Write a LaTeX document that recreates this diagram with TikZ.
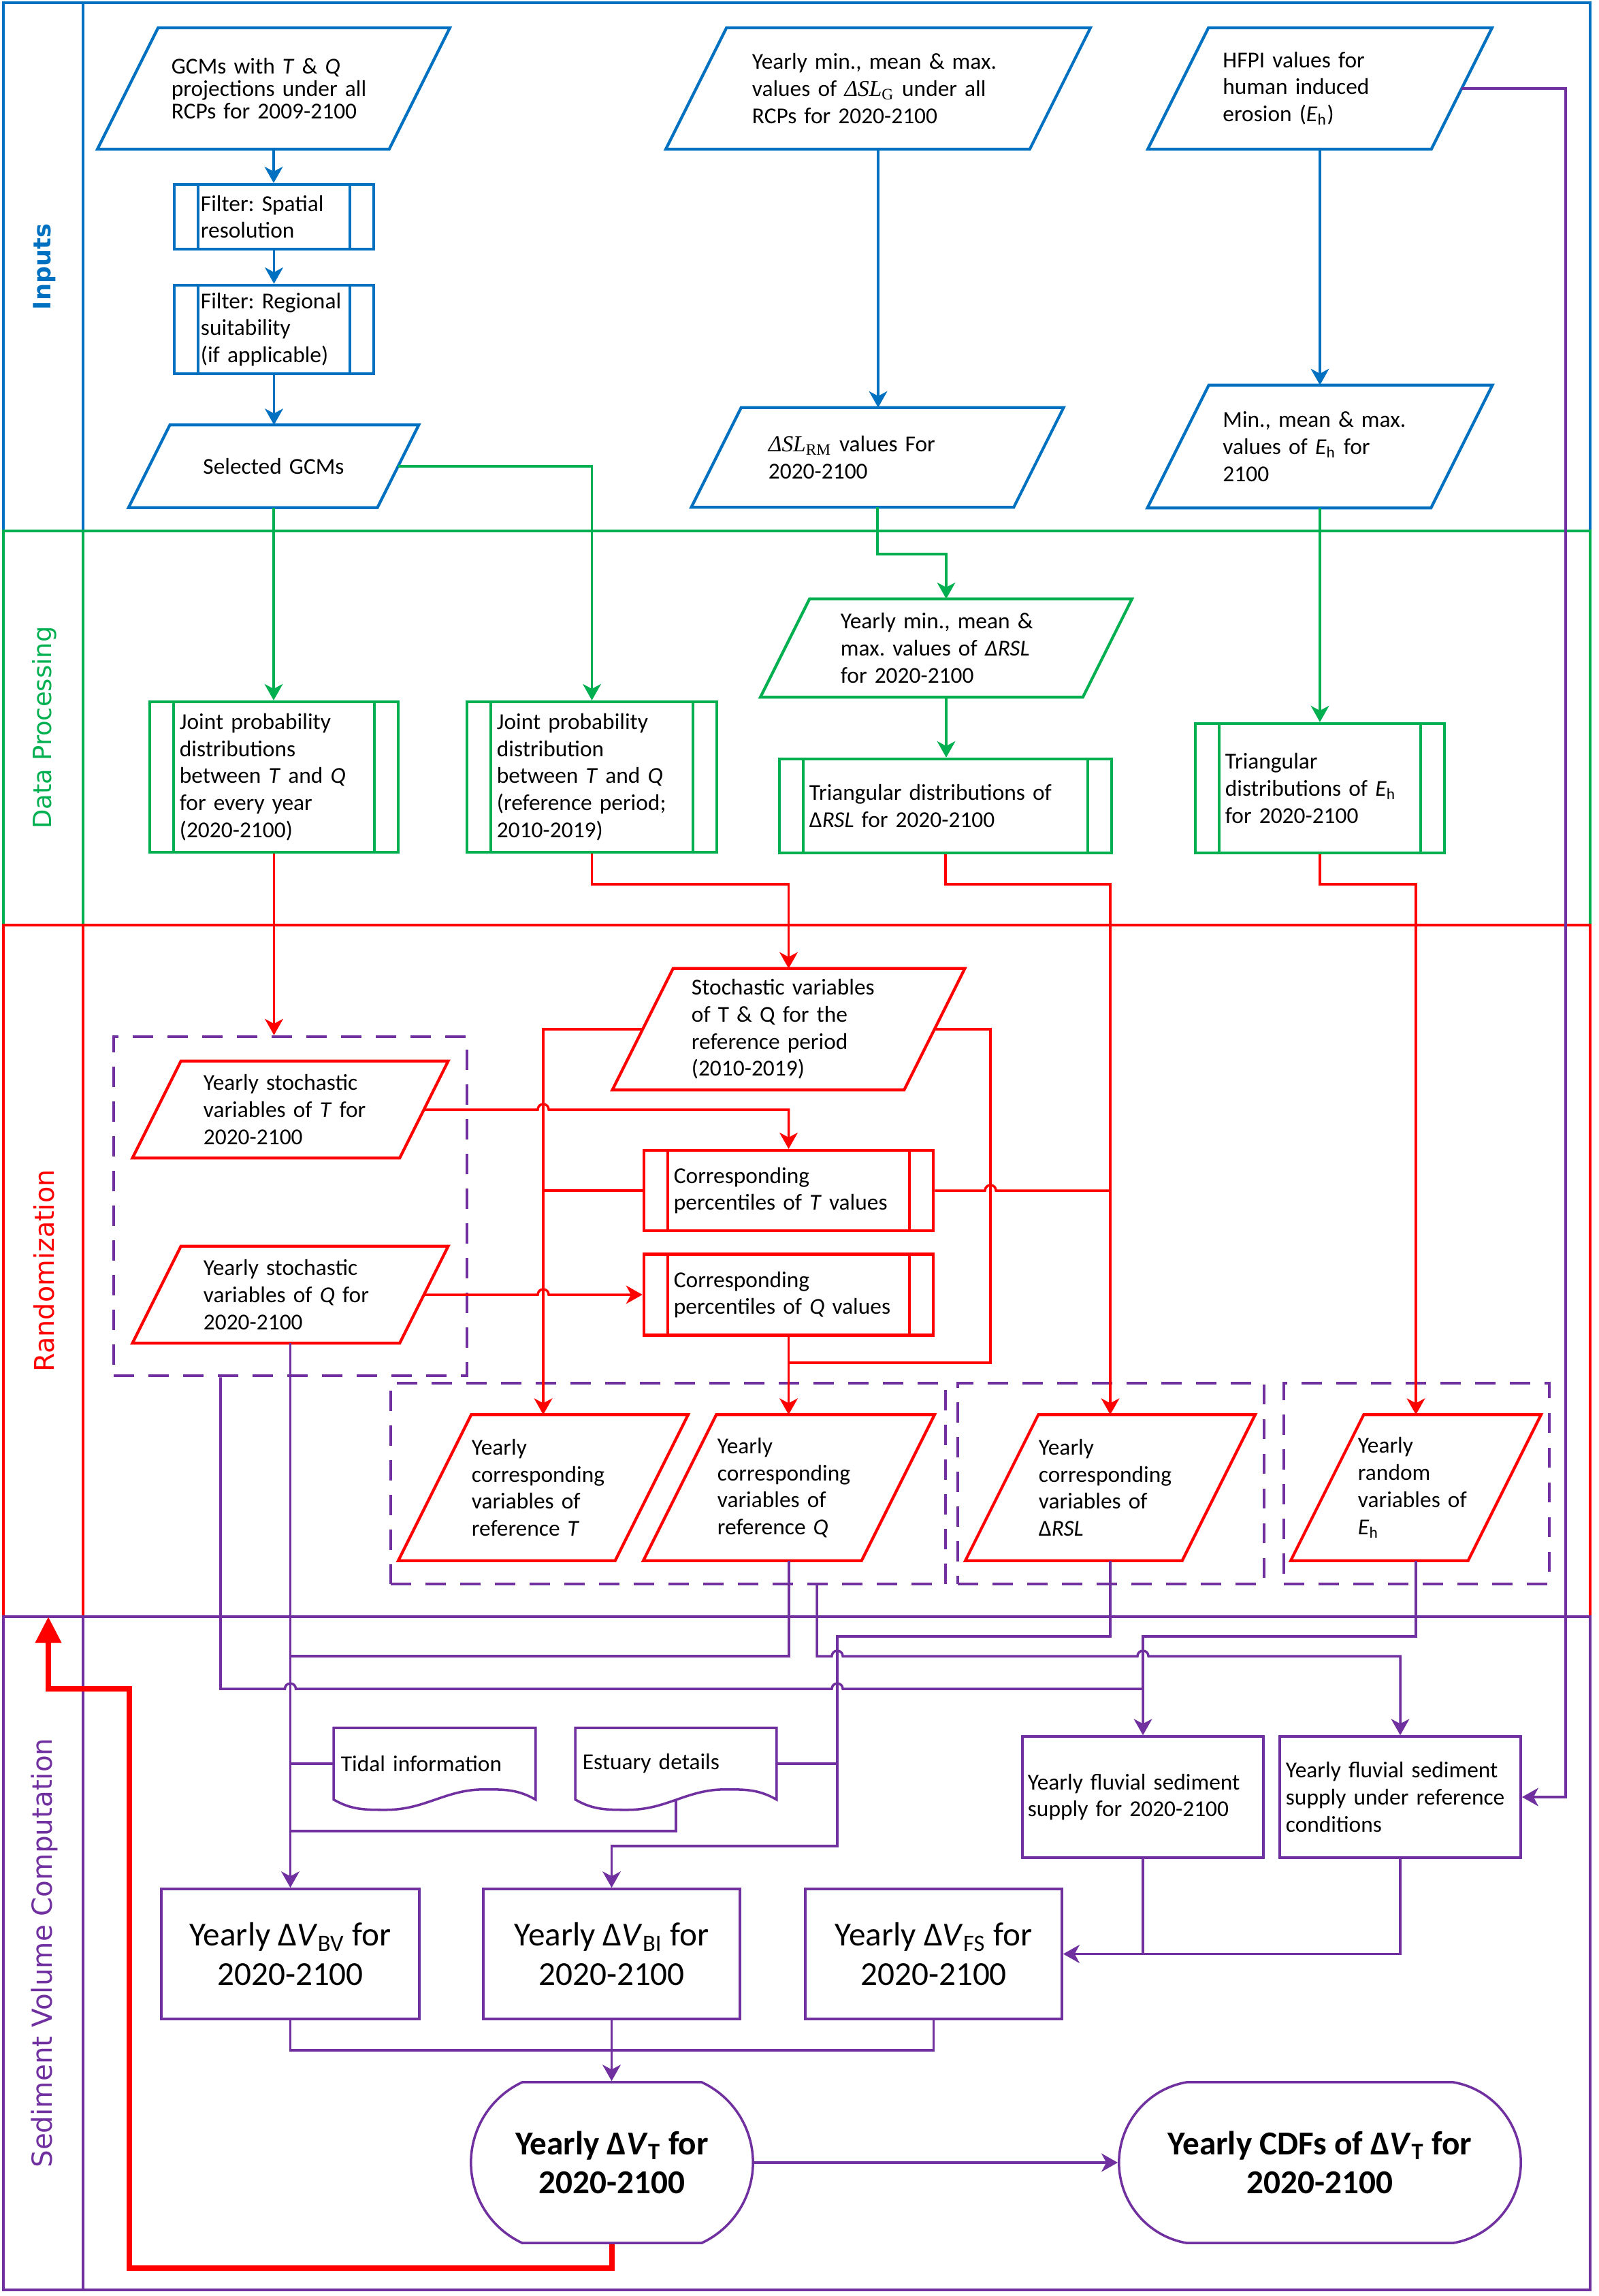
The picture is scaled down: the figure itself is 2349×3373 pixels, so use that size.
\documentclass[tikz,border=0pt]{standalone}
\usepackage{fontspec}
\setmainfont{Carlito}
\newfontfamily\lanefont{DejaVu Sans}
\newfontfamily\tnr{Liberation Serif}
\usetikzlibrary{arrows.meta,calc,shapes.misc}

\definecolor{cblue}{RGB}{0,112,192}
\definecolor{cgreen}{RGB}{0,176,80}
\definecolor{cred}{RGB}{255,0,0}
\definecolor{cpurple}{RGB}{112,48,160}

\newcommand{\dsl}[1]{{\tnr\textit{ΔSL}\textsubscript{#1}}}
\newcommand{\Eh}{\textit{E}\textsubscript{h}}
\newcommand{\dV}[1]{Δ\textit{V}\textsubscript{#1}}

\begin{document}
\frenchspacing
\begin{tikzpicture}[x=0.01cm, y=-0.01cm,
  txt/.style={font=\fontsize{9.5}{11.3}\selectfont, inner sep=0pt, align=left},
  io/.style={txt, rectangle},
  proc/.style={txt, rectangle, draw=#1, line width=1.2pt,
    path picture={\draw[#1, line width=1.2pt]
      ([xshift=10pt]path picture bounding box.north west) -- ([xshift=10pt]path picture bounding box.south west)
      ([xshift=-10pt]path picture bounding box.north east) -- ([xshift=-10pt]path picture bounding box.south east);}},
  sbox/.style={txt, rectangle, draw=cpurple, line width=1pt},
  big/.style={rectangle, draw=cpurple, line width=1pt, inner sep=0pt, align=center, font=\fontsize{14}{16.4}\selectfont},
  term/.style={rounded rectangle, rounded rectangle arc length=#1, draw=cpurple, line width=1pt,
    inner sep=0pt, align=center, font=\fontsize{14}{16.4}\selectfont\bfseries},
  doc/.style={txt, rectangle},
  grp/.style={rectangle, draw=cpurple, line width=1.2pt, dash pattern=on 8.5pt off 6pt, inner sep=0pt},
  lane/.style={rotate=90, text=#1, inner sep=0pt},
  link/.style={line width=1pt, -{Stealth[length=6.8pt, width=7.6pt, inset=2pt]}},
  wire/.style={line width=1pt},
]
\useasboundingbox (0,0) rectangle (2349,3373);
\fill[white] (0,0) rectangle (2349,3373);

% swim lanes
\foreach \ya/\yb/\cl in {4/780/cblue, 780/1359/cgreen, 1359/2375/cred, 2375/3364/cpurple}
  \draw[\cl, line width=1pt] (5,\ya) rectangle (2336,\yb) (122,\ya) -- (122,\yb);

\node[lane=cblue, font=\lanefont\bfseries\fontsize{10}{12}\selectfont] (lin) at (65,392) {Inputs};
\node[lane=cgreen, font=\lanefont\fontsize{10.5}{12}\selectfont] (ldp) at (65,1069) {Data Processing};
\node[lane=cred, font=\lanefont\fontsize{11.3}{13}\selectfont] (lrd) at (65,1867) {Randomization};
\node[lane=cpurple, font=\lanefont\fontsize{11.5}{13}\selectfont] (lsv) at (65,2869) {Sediment Volume Computation};

% dashed groups
\node[grp, minimum width=5.19cm, minimum height=4.98cm] (grp1) at (426.5,1772) {};
\node[grp, minimum width=8.15cm, minimum height=2.95cm] (grp2) at (981.5,2179.5) {};
\node[grp, minimum width=4.50cm, minimum height=2.95cm] (grp3) at (1632,2179.5) {};
\node[grp, minimum width=3.90cm, minimum height=2.95cm] (grp4) at (2081,2179.5) {};

% inputs
\node[io, minimum width=4.27cm, minimum height=1.77cm, text width=3.00cm, font=\fontsize{9.5}{9.5}\selectfont] (gcm) at (402,130)
  {GCMs with \textit{T} \& \textit{Q}\\projections under all\\RCPs for 2009-2100};
\node[io, minimum width=5.33cm, minimum height=1.77cm, text width=3.70cm] (dslg) at (1290,130)
  {Yearly min., mean \& max.\\values of \dsl{G} under all\\RCPs for 2020-2100};
\node[io, minimum width=4.15cm, minimum height=1.77cm, text width=2.85cm] (hfpi) at (1939,130)
  {HFPI values for\\human induced\\erosion (\Eh)};
\node[proc=cblue, minimum width=2.93cm, minimum height=0.95cm, text width=2.15cm] (fsp) at (402.5,318.5)
  {Filter: Spatial\\resolution};
\node[proc=cblue, minimum width=2.93cm, minimum height=1.30cm, text width=2.15cm] (freg) at (402.5,484)
  {Filter: Regional\\suitability\\(if applicable)};
\node[io, minimum width=3.64cm, minimum height=1.20cm, text width=2.60cm, align=center] (sel) at (402,685)
  {Selected GCMs};
\node[io, minimum width=4.72cm, minimum height=1.45cm, text width=3.20cm] (dslrm) at (1289,672)
  {\dsl{RM} values For\\2020-2100};
\node[io, minimum width=4.15cm, minimum height=1.79cm, text width=2.85cm] (ehmm) at (1939,656)
  {Min., mean \& max.\\values of \Eh{} for\\2100};

% data processing
\node[proc=cgreen, minimum width=3.65cm, minimum height=2.21cm, text width=2.77cm] (jp1) at (402.5,1141.5)
  {Joint probability\\distributions\\between \textit{T} and \textit{Q}\\for every year\\(2020-2100)};
\node[proc=cgreen, minimum width=3.67cm, minimum height=2.21cm, text width=2.79cm] (jp2) at (869.5,1141.5)
  {Joint probability\\distribution\\between \textit{T} and \textit{Q}\\(reference period;\\2010-2019)};
\node[io, minimum width=4.72cm, minimum height=1.43cm, text width=3.10cm] (drsl) at (1390,952)
  {Yearly min., mean \&\\max. values of \textit{ΔRSL}\\for 2020-2100};
\node[proc=cgreen, minimum width=4.88cm, minimum height=1.38cm, text width=4.00cm] (trr) at (1389,1184)
  {Triangular distributions of\\Δ\textit{RSL} for 2020-2100};
\node[proc=cgreen, minimum width=3.66cm, minimum height=1.90cm, text width=2.78cm] (tre) at (1939,1158)
  {Triangular\\distributions of \Eh\\for 2020-2100};

% randomization
\node[io, minimum width=4.27cm, minimum height=1.77cm, text width=2.85cm] (stref) at (1158.5,1512)
  {Stochastic variables\\of T \& Q for the\\reference period\\(2010-2019)};
\node[io, minimum width=3.91cm, minimum height=1.41cm, text width=2.55cm] (stt) at (426.5,1630)
  {Yearly stochastic\\variables of \textit{T} for\\2020-2100};
\node[io, minimum width=3.91cm, minimum height=1.41cm, text width=2.55cm] (stq) at (426.5,1902)
  {Yearly stochastic\\variables of \textit{Q} for\\2020-2100};
\node[proc=cred, minimum width=4.25cm, minimum height=1.18cm, text width=3.37cm] (pct) at (1158.5,1749)
  {Corresponding\\percentiles of \textit{T} values};
\node[proc=cred, minimum width=4.25cm, minimum height=1.19cm, text width=3.37cm] (pcq) at (1158.5,1902)
  {Corresponding\\percentiles of \textit{Q} values};
\node[io, minimum width=3.17cm, minimum height=2.13cm, text width=2.10cm] (crt) at (798,2185.5)
  {Yearly\\corresponding\\variables of\\reference \textit{T}};
\node[io, minimum width=3.19cm, minimum height=2.13cm, text width=2.10cm] (crq) at (1159,2185.5)
  {Yearly\\corresponding\\variables of\\reference \textit{Q}};
\node[io, minimum width=3.17cm, minimum height=2.13cm, text width=2.10cm] (crr) at (1631,2185.5)
  {Yearly\\corresponding\\variables of\\Δ\textit{RSL}};
\node[io, minimum width=2.59cm, minimum height=2.13cm, text width=1.70cm] (rde) at (2080,2185.5)
  {Yearly\\random\\variables of\\\Eh};

% sediment volume computation
\node[doc, minimum width=2.95cm, minimum height=1.04cm, text width=2.75cm] (tid) at (638.5,2591) {Tidal information};
\node[doc, minimum width=2.94cm, minimum height=1.04cm, text width=2.74cm] (est) at (993,2591) {Estuary details};
\node[sbox, minimum width=3.54cm, minimum height=1.78cm, text width=3.38cm] (fl1) at (1679,2640)
  {Yearly fluvial sediment\\supply for 2020-2100};
\node[sbox, minimum width=3.54cm, minimum height=1.78cm, text width=3.36cm] (fl2) at (2057,2640)
  {Yearly fluvial sediment\\supply under reference\\conditions};
\node[big, minimum width=3.79cm, minimum height=1.91cm] (vbv) at (426.5,2870.5) {Yearly \dV{BV} for\\2020-2100};
\node[big, minimum width=3.77cm, minimum height=1.91cm] (vbi) at (898.5,2870.5) {Yearly \dV{BI} for\\2020-2100};
\node[big, minimum width=3.77cm, minimum height=1.91cm] (vfs) at (1371.5,2870.5) {Yearly \dV{FS} for\\2020-2100};
\node[term=130, minimum width=4.14cm, minimum height=2.36cm] (vt) at (899,3177) {Yearly \dV{T} for\\2020-2100};
\node[term=160, minimum width=5.90cm, minimum height=2.36cm] (cdf) at (1939,3177) {Yearly CDFs of \dV{T} for\\2020-2100};

% parallelogram outlines
\foreach \nd/\cl in {gcm/cblue, dslg/cblue, hfpi/cblue, sel/cblue, dslrm/cblue, ehmm/cblue, drsl/cgreen,
    stref/cred, stt/cred, stq/cred, crt/cred, crq/cred, crr/cred, rde/cred}
  \draw[\cl, line width=1.2pt]
    let \p1=(\nd.north west), \p2=(\nd.south east), \n1={0.25*(\y1-\y2)} in
    ({\x1+\n1},\y1) -- ({\x2+\n1},\y1) -- ({\x2-\n1},\y2) -- ({\x1-\n1},\y2) -- cycle;

% document outlines
\foreach \nd in {tid, est}
  \draw[cpurple, line width=1pt] (\nd.north west) -- (\nd.north east) -- (\nd.south east)
    to[out=150, in=0] ($(\nd.south east)+(-75,-15)$)
    to[out=180, in=0] ($(\nd.south west)+(77,15)$)
    to[out=180, in=-30] (\nd.south west) -- cycle;

% inputs links
\foreach \a/\b in {gcm/fsp, fsp/freg, freg/sel, dslg/dslrm, hfpi/ehmm}
  \draw[link, cblue] (\a.south) -- (\a.south |- \b.north);

% data processing links
\draw[link, cgreen] (sel.south) -- (sel.south |- jp1.north);
\draw[link, cgreen] (sel.east) -| (jp2.north);
\draw[link, cgreen] (dslrm.south) -- ++(0,69) -| (drsl.north);
\draw[link, cgreen] (drsl.south) -- (drsl.south |- trr.north);
\draw[link, cgreen] (ehmm.south) -- (ehmm.south |- tre.north);

% randomization links
\draw[link, cred] (jp1.south) -- (jp1.south |- grp1.north);
\draw[link, cred] (jp2.south) -- ++(0,45) -| (stref.north);
\draw[link, cred] (trr.south) -- ++(0,44) -| (crr.north);
\draw[link, cred] (tre.south) -- ++(0,44) -| (rde.north);
\draw[link, cred] (stref.west) -| (crt.north);
\draw[wire, cred] (pct.west) -- (crt.north |- pct.west);
\draw[link, cred] (stt.east) -- (790,1630) arc[start angle=180, end angle=0, radius=2.28pt]
  -- (pct.north |- stt.east) -- (pct.north);
\draw[link, cred] (stq.east) -- (790,1902) arc[start angle=180, end angle=0, radius=2.28pt] -- (pcq.west);
\draw[wire, cred] (pct.east) -- (1447,1749) arc[start angle=180, end angle=0, radius=2.28pt]
  -- (crr.north |- pct.east);
\draw[wire, cred] (stref.east) -- (1455,1512) -- (1455,2002) -- (pcq.south |- 0,2002);
\draw[link, cred] (pcq.south) -- (pcq.south |- crq.north);

% sediment links
\draw[link, cpurple] (stq.south) -- (stq.south |- vbv.north);
\draw[link, cpurple] (grp1.south -| 324,0) -- (324,2481) -- (418.5,2481)
  arc[start angle=180, end angle=0, radius=2.28pt] -- (1222,2481)
  arc[start angle=180, end angle=0, radius=2.28pt] -- (fl1.north |- 0,2481) -- (fl1.north);
\draw[wire, cpurple] (crq.south) |- (stq.south |- 0,2433);
\draw[link, cpurple] (grp2.south -| 1200,0) -- (1200,2433) -- (1222,2433)
  arc[start angle=180, end angle=0, radius=2.28pt] -- (1671,2433)
  arc[start angle=180, end angle=0, radius=2.28pt] -- (fl2.north |- 0,2433) -- (fl2.north);
\draw[link, cpurple] (crr.south) |- (1230,2404) -- (1230,2712) -| (vbi.north);
\draw[wire, cpurple] (rde.south) |- (fl1.north |- 0,2404) -- (fl1.north |- 0,2481);
\draw[wire, cpurple] (tid.west) -- (stq.south |- tid.west);
\draw[wire, cpurple] (est.east) -- (est.east -| 1230,0);
\draw[wire, cpurple] (est.south) |- (stq.south |- 0,2690);
\draw[link, cpurple] (hfpi.east) -- (hfpi.east -| 2300,0) |- (fl2.east);
\draw[link, cpurple] (fl1.south) |- (vfs.east);
\draw[wire, cpurple] (fl2.south) |- (fl1.south |- vfs.east);
\draw[wire, cpurple] (vbv.south) -- ++(0,44) -| (vfs.south);
\draw[link, cpurple] (vbi.south) -- (vbi.south |- vt.north);
\draw[link, cpurple] (vt.east) -- (cdf.west);

% feedback loop
\draw[cred, line width=2.3pt, -{Triangle[length=11pt, width=10.5pt]}]
  (vt.south) -- ++(0,35) -| (190,2481) -| (71,2375);
\end{tikzpicture}
\end{document}
